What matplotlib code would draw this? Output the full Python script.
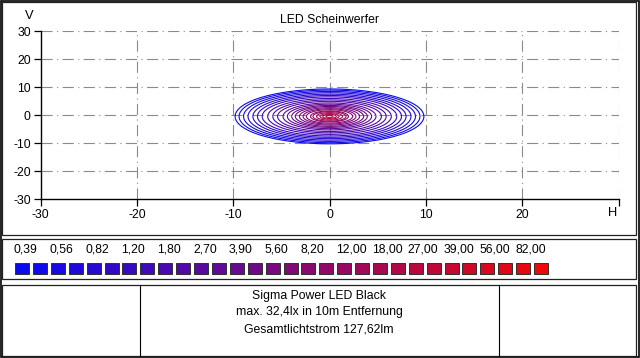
import numpy as np
import matplotlib
matplotlib.use("Agg")
import matplotlib.pyplot as plt
from matplotlib.colors import LinearSegmentedColormap
from matplotlib.patches import Rectangle

# ---------------- data ----------------
title = "LED Scheinwerfer"
levels = [0.39, 0.47, 0.56, 0.68, 0.82, 1.00, 1.20, 1.50, 1.80, 2.20,
          2.70, 3.30, 3.90, 4.70, 5.60, 6.80, 8.20, 10.0, 12.0, 15.0,
          18.0, 22.0, 27.0, 33.0, 39.0, 47.0, 56.0, 68.0, 82.0, 100.0]
legend_labels = ["0,39", "0,56", "0,82", "1,20", "1,80", "2,70", "3,90", "5,60",
                 "8,20", "12,00", "18,00", "27,00", "39,00", "56,00", "82,00"]
ticks = [-30, -20, -10, 0, 10, 20, 30]
xtick_labels = ["-30", "-20", "-10", "0", "10", "20", ""]
ytick_labels = ["-30", "-20", "-10", "0", "10", "20", "30"]
# radial illuminance profile (lx) vs. normalised radius of the spot
profile_r = [0.0, 0.1, 0.2, 0.3, 0.4, 0.5, 0.6, 0.7, 0.8, 0.9, 1.0, 1.1]
profile_lx = [32.4, 18.0, 10.0, 6.0, 3.9, 2.6, 1.8, 1.25, 0.85, 0.58, 0.39, 0.10]
spot_center = (0.0, -0.5)
spot_radius = 9.8
info_lines = ["Sigma Power LED Black", "max. 32,4lx in 10m Entfernung",
              "Gesamtlichtstrom 127,62lm"]

# ---------------- figure ----------------
W, H = 640, 358
fig = plt.figure(figsize=(W / 100, H / 100), dpi=100)
plt.rcParams['font.family'] = ['Liberation Sans', 'DejaVu Sans']
FS = 8.8

bg = fig.add_axes([0, 0, 1, 1], zorder=0)
bg.set_xlim(0, W)
bg.set_ylim(H, 0)
bg.axis('off')

# panels
bg.add_patch(Rectangle((0.5, 0.5), W - 1.2, H - 1.2, fill=False, ec='black', lw=1.2))
bg.add_patch(Rectangle((1.5, 1.5), 634, 233, fill=False, ec='#202020', lw=0.9))
bg.add_patch(Rectangle((1.5, 239), 634, 40, fill=False, ec='#202020', lw=0.9))
bg.add_patch(Rectangle((1.5, 285), 634, 71, fill=False, ec='#202020', lw=0.9))
bg.plot([140, 140], [285, 356], color='black', lw=0.8)
bg.plot([498.5, 498.5], [285, 356], color='black', lw=0.8)

cmap = LinearSegmentedColormap.from_list("bluered", ["#0A0AF0", "#EE0808"])
ncol = len(levels)
cols = [cmap(i / (ncol - 1)) for i in range(ncol)]

# legend squares
for i, c in enumerate(cols):
    x0 = 15 + i * 17.9
    bg.add_patch(Rectangle((x0, 263), 14, 11, fc=c, ec='#303030', lw=0.7))
for j, lab in enumerate(legend_labels):
    x0 = 14 + 2 * j * 17.9
    bg.text(x0, 250, lab, ha='left', va='center', fontsize=FS)

for k, line in enumerate(info_lines):
    bg.text(319, 296 + k * 16.5, line, ha='center', va='center', fontsize=FS)

bg.text(330, 20, title, ha='center', va='center', fontsize=FS)
bg.text(29, 16, "V", ha='center', va='center', fontsize=FS + 0.5)
bg.text(613, 213, "H", ha='center', va='center', fontsize=FS + 0.5)

# ---------------- main plot ----------------
ax = fig.add_axes([40.5 / W, 1 - 199 / H, (618.5 - 40.5) / W, (199 - 31) / H], zorder=1)
ax.patch.set_alpha(0)
ax.set_xlim(-30, 30)
ax.set_ylim(-30, 30)
ax.set_xticks(ticks)
ax.set_yticks(ticks)
ax.set_xticklabels(xtick_labels)
ax.set_yticklabels(ytick_labels)
ax.tick_params(direction='out', length=5, width=0.9, labelsize=FS, pad=2, colors='black')
for s in ['top', 'right']:
    ax.spines[s].set_visible(False)
for s in ['left', 'bottom']:
    ax.spines[s].set_linewidth(1.0)

grid_style = dict(color='#8a8a8a', lw=0.8, dashes=(10, 4, 1, 4), zorder=0.5)
for t in ticks:
    if t != -30:
        ax.axvline(t, **grid_style)
        ax.axhline(t, **grid_style)

xg = np.linspace(-12, 12, 401)
yg = np.linspace(-12, 12, 401)
X, Y = np.meshgrid(xg, yg)
R = np.hypot(X - spot_center[0], Y - spot_center[1]) / spot_radius
Z = np.interp(R, profile_r, profile_lx)
ax.contour(X, Y, Z, levels=levels, colors=cols, linewidths=0.8, zorder=2)

fig.savefig("out.png", dpi=100)
